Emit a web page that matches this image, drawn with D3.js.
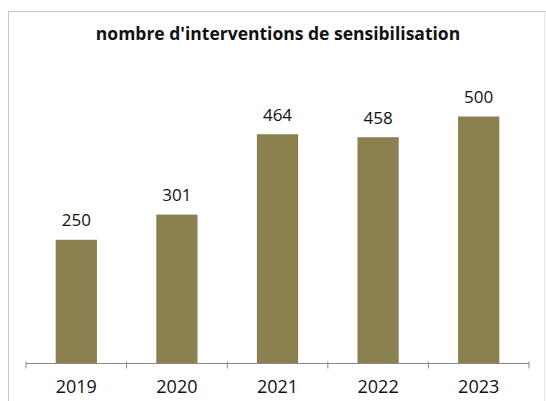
<!DOCTYPE html>
<html><head><meta charset="utf-8">
<script src="https://cdn.jsdelivr.net/npm/d3@7"></script>
<style>body{margin:0;background:#fff}svg{display:block}</style>
</head><body>
<svg id="c" width="546" height="401"></svg>
<script>
const categories = ["2019","2020","2021","2022","2023"];
const values = [250,301,464,458,500];
const title = "nombre d'interventions de sensibilisation";

const svg = d3.select("#c");
const font = "'Open Sans', 'Noto Sans', sans-serif";
// frame
svg.append("path").attr("d","M8.5,401 V11.5 H546").attr("fill","none").attr("stroke","#c8c8c8").attr("stroke-width",1);
svg.append("line").attr("x1",544.5).attr("x2",544.5).attr("y1",11).attr("y2",401).attr("stroke","#e4e4e4");

const x = d3.scaleBand().domain(categories).range([26,529]).paddingInner(0.59).paddingOuter(0.295);
const y = d3.scaleLinear().domain([0,600]).range([363,67.2]);

svg.append("text").attr("x",278).attr("y",40).attr("text-anchor","middle")
  .attr("font-family",font).attr("font-weight","bold").attr("font-size",17.5).attr("fill","#111").text(title);

svg.selectAll("rect.bar").data(values).join("rect").attr("class","bar")
  .attr("x",(d,i)=>x(categories[i])).attr("width",x.bandwidth())
  .attr("y",d=>y(d)).attr("height",d=>y(0)-y(d)).attr("fill","#8b804f");

svg.selectAll("text.lbl").data(values).join("text").attr("class","lbl")
  .attr("x",(d,i)=>x(categories[i])+x.bandwidth()/2).attr("y",d=>y(d)-13.5)
  .attr("text-anchor","middle").attr("font-family",font).attr("font-size",17).attr("fill","#111").text(d=>d);

const g = svg.append("g").attr("transform","translate(0,363.5)");
g.append("line").attr("x1",26).attr("x2",529).attr("stroke","#888").attr("stroke-width",1.2);
const edges = d3.range(categories.length+1).map(i=>26+i*((529-26)/categories.length));
g.selectAll("line.tk").data(edges).join("line").attr("class","tk")
  .attr("x1",d=>d).attr("x2",d=>d).attr("y1",-2).attr("y2",5).attr("stroke","#888");
g.selectAll("text.cat").data(categories).join("text").attr("class","cat")
  .attr("x",d=>x(d)+x.bandwidth()/2).attr("y",29.5).attr("text-anchor","middle")
  .attr("font-family",font).attr("font-size",18).attr("fill","#111").text(d=>d);
</script>
</body></html>
